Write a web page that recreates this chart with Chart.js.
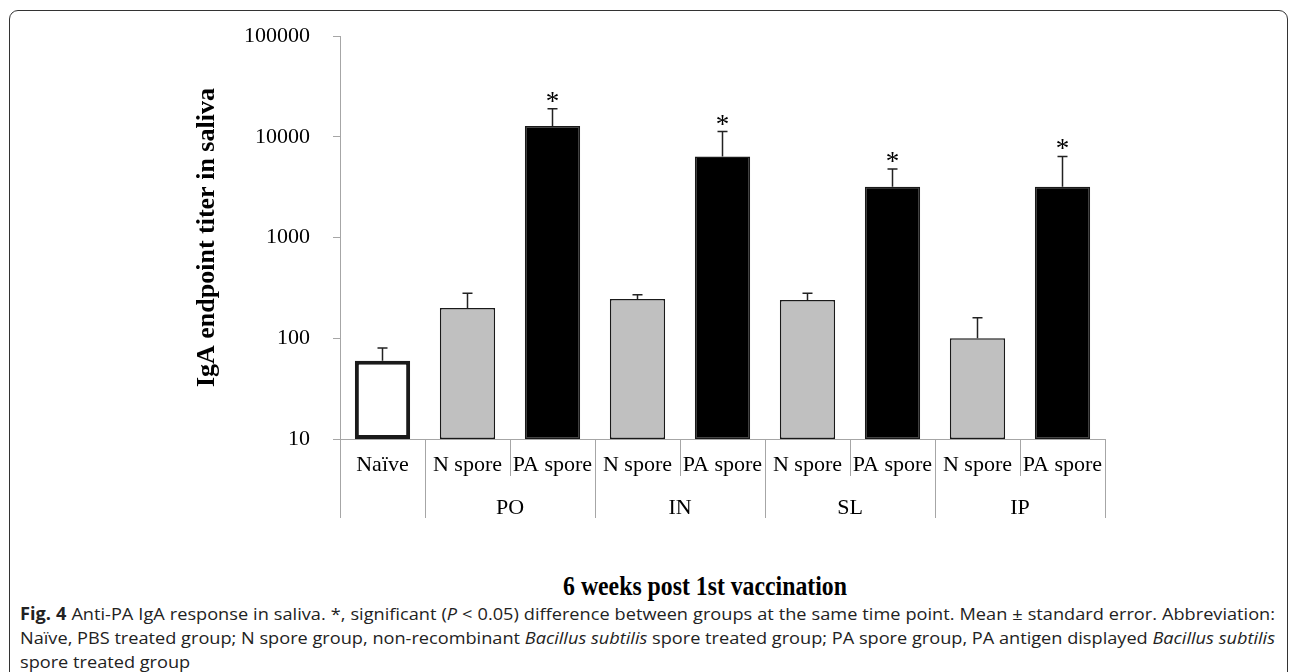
<!DOCTYPE html>
<html>
<head>
<meta charset="utf-8">
<script src="https://cdn.jsdelivr.net/npm/chart.js@4.4.1/dist/chart.umd.min.js"></script>
<style>
  body { margin: 0; width: 1292px; height: 672px; background: #fff; overflow: hidden; position: relative; }
  #frame { position: absolute; left: 9px; top: 10px; width: 1277px; height: 700px; border: 1.5px solid #333; border-radius: 9px; }
  #wrap { position: absolute; left: 0; top: 0; width: 1292px; height: 560px; }
  #xtitle { position: absolute; left: 705px; top: 571px; font: bold 27px "Liberation Serif", "Times New Roman", serif; color: #000; transform: translateX(-50%) scaleX(0.88); transform-origin: 50% 0; white-space: nowrap; }
  #caption { position: absolute; left: 20px; top: 602px; font-family: "Open Sans", sans-serif; font-size: 17px; line-height: 24px; color: #222; transform-origin: 0 0; white-space: nowrap; }
  #caption div { white-space: nowrap; }
  #caption .just { text-align: justify; text-align-last: justify; }
</style>
</head>
<body>
<div id="frame"></div>
<div id="wrap"><canvas id="chart_titer"></canvas></div>
<div id="xtitle">6 weeks post 1st vaccination</div>
<div id="caption">
  <div class="just" id="cap1"><span><b>Fig. 4</b> Anti-PA IgA response in saliva. *, significant (<i>P</i> &lt; 0.05) difference between groups at the same time point. Mean ± standard error. Abbreviation:</span></div>
  <div class="just"><span>Naïve, PBS treated group; N spore group, non-recombinant <i>Bacillus subtilis</i> spore treated group; PA spore group, PA antigen displayed <i>Bacillus subtilis</i></span></div>
  <div><span>spore treated group</span></div>
</div>
<script>
// data
var categories = ["Naïve", "N spore", "PA spore", "N spore", "PA spore", "N spore", "PA spore", "N spore", "PA spore"];
var routes = ["", "PO", "PO", "IN", "IN", "SL", "SL", "IP", "IP"];
var meanTiter = [60, 200, 12800, 245, 6400, 240, 3200, 100, 3200];
var errorTop = [80, 280, 19000, 270, 11300, 280, 4800, 160, 6400];
var significant = [false, false, true, false, true, false, true, false, true];
var yTicks = [10, 100, 1000, 10000, 100000];

// route group boundaries / centres in slot units
var groupEdges = [0];
var groupLabels = {};
(function () {
    var start = 0;
    for (var i = 1; i <= routes.length; i++) {
        if (i === routes.length || routes[i] !== routes[start]) {
            groupEdges.push(i);
            if (routes[start]) groupLabels[(start + i) / 2] = routes[start];
            start = i;
        }
    }
})();
var groupTicks = groupEdges.concat(Object.keys(groupLabels).map(Number)).sort(function (a, b) { return a - b; });

var fills = { "Naïve": "#ffffff", "N spore": "#c0c0c0", "PA spore": "#000000" };
var axisGrey = "#a6a6a6";
var serif = "'Liberation Serif', 'Times New Roman', serif";

var errorBars = {
    id: "errorBars",
    afterDatasetsDraw: function (chart) {
        var ctx = chart.ctx, x = chart.scales.x, y = chart.scales.y;
        ctx.save();
        ctx.strokeStyle = "#222";
        ctx.lineWidth = 1.5;
        meanTiter.forEach(function (v, i) {
            var px = x.getPixelForValue(i);
            var y0 = y.getPixelForValue(v);
            var y1 = y.getPixelForValue(errorTop[i]);
            ctx.beginPath();
            ctx.moveTo(px, y0);
            ctx.lineTo(px, y1);
            ctx.moveTo(px - 5, y1);
            ctx.lineTo(px + 5, y1);
            ctx.stroke();
            if (significant[i]) {
                ctx.fillStyle = "#000";
                ctx.font = "27px " + serif;
                ctx.textAlign = "center";
                ctx.textBaseline = "alphabetic";
                ctx.fillText("*", px, y1 + 1);
            }
        });
        ctx.restore();
    }
};

var chart = new Chart(document.getElementById("chart_titer").getContext("2d"), {
    type: "bar",
    data: {
        labels: categories,
        datasets: [
            {
                data: meanTiter,
                backgroundColor: categories.map(function (c) { return fills[c]; }),
                borderColor: "#1a1a1a",
                borderWidth: categories.map(function (c) { return c === "Naïve" ? 4 : 1.5; }),
                borderSkipped: false,
                barPercentage: 0.65,
                categoryPercentage: 1,
            },
        ],
    },
    plugins: [errorBars],
    options: {
        responsive: true,
        maintainAspectRatio: false,
        animation: false,
        layout: { padding: { left: 190, top: 36, right: 187, bottom: 4 } },
        plugins: {
            legend: { display: false },
            tooltip: { enabled: false },
        },
        scales: {
            y: {
                type: "logarithmic",
                min: 10,
                max: 100000,
                afterBuildTicks: function (scale) {
                    scale.ticks = yTicks.map(function (v) { return { value: v }; });
                },
                afterFit: function (scale) { scale.width = 150; },
                ticks: {
                    color: "#000",
                    font: { family: serif, size: 22 },
                    padding: 23,
                    callback: function (v) { return String(v); },
                },
                grid: { drawOnChartArea: false, tickLength: 7, color: axisGrey, lineWidth: 1 },
                border: { color: axisGrey, width: 1 },
                title: {
                    display: true,
                    text: "IgA endpoint titer in saliva",
                    color: "#000",
                    font: { family: serif, size: 26, weight: "bold" },
                    padding: { top: 2, bottom: 0 },
                },
            },
            x: {
                weight: 0,
                afterFit: function (scale) { scale.height = 37; },
                ticks: {
                    color: "#000",
                    font: { family: serif, size: 22 },
                    padding: -24,
                    autoSkip: false,
                    maxRotation: 0,
                    minRotation: 0,
                },
                grid: { offset: true, drawOnChartArea: false, tickLength: 37, color: axisGrey, lineWidth: 1 },
                border: { color: axisGrey, width: 1 },
            },
            xg: {
                type: "linear",
                position: "bottom",
                weight: 1,
                offset: false,
                min: 0,
                max: categories.length,
                afterBuildTicks: function (scale) {
                    scale.ticks = groupTicks.map(function (v) { return { value: v }; });
                },
                afterFit: function (scale) { scale.height = 80; },
                ticks: {
                    color: "#000",
                    font: { family: serif, size: 22 },
                    padding: -23,
                    autoSkip: false,
                    maxRotation: 0,
                    callback: function (v) { return groupLabels[v] || ""; },
                },
                grid: {
                    offset: false,
                    drawOnChartArea: false,
                    tickLength: 42,
                    lineWidth: 1,
                    color: function (c) {
                        if (!c.tick) return axisGrey;
                        return groupLabels[c.tick.value] ? "rgba(0,0,0,0)" : axisGrey;
                    },
                },
                border: { display: false },
            },
        },
    },
});

// squeeze the caption to the figure width like the journal layout
(function () {
    var cap = document.getElementById("caption");
    var first = document.querySelector("#cap1 span");
    var natural = first.getBoundingClientRect().width;
    var s = 1255 / natural;
    cap.style.width = natural + "px";
    cap.style.transform = "scaleX(" + s + ")";
})();
</script>
</body>
</html>
